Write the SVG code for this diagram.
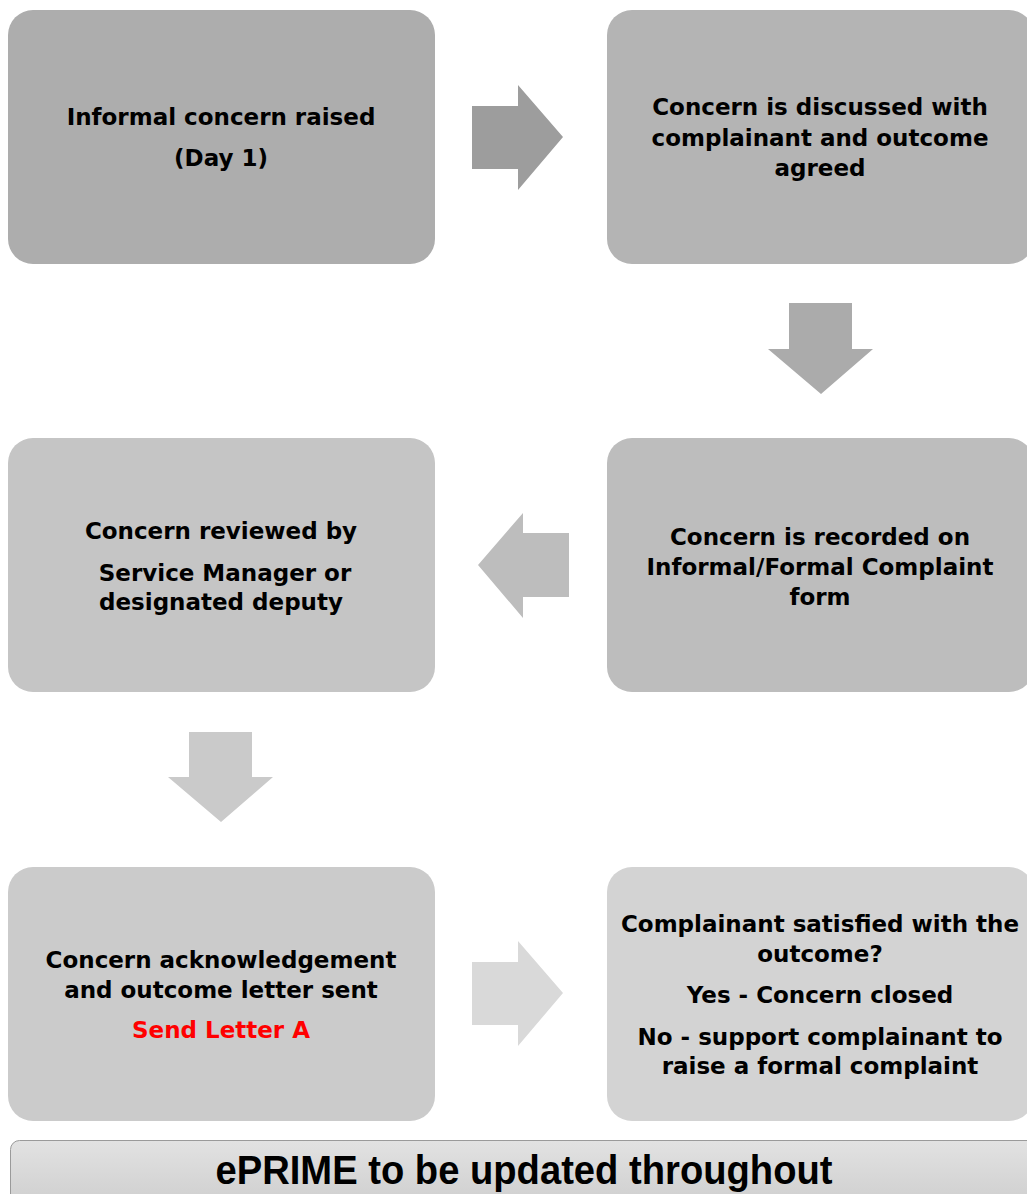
<svg xmlns="http://www.w3.org/2000/svg" width="1027" height="1194" viewBox="0 0 1027 1194">
<style>
.t{font-family:"DejaVu Sans","Liberation Sans",Arial,sans-serif;font-weight:bold;font-size:23px;fill:#000;text-anchor:middle}
.red{fill:#ff0000}
.bar{font-family:"Liberation Sans",Arial,sans-serif;font-weight:bold;font-size:40px;fill:#000;text-anchor:middle}
</style>
<defs>
<linearGradient id="g" x1="0" y1="0" x2="0" y2="1">
<stop offset="0" stop-color="#e2e2e2"/>
<stop offset="1" stop-color="#cdcdcd"/>
</linearGradient>
</defs>
<rect width="1027" height="1194" fill="#ffffff"/>
<g id="connectors">
<polygon points="472,106 518,106 518,85 563,137 518,190 518,169 472,169" fill="#9d9d9d"/>
<polygon points="789,303 852,303 852,349 873,349 821,394 768,349 789,349" fill="#ababab"/>
<polygon points="569,533 523,533 523,513 478,565 523,618 523,597 569,597" fill="#bdbdbd"/>
<polygon points="189,732 252,732 252,777 273,777 221,822 168,777 189,777" fill="#cacaca"/>
<polygon points="472,962 518,962 518,941 563,993 518,1046 518,1025 472,1025" fill="#d9d9d9"/>
</g>
<g id="n1">
<rect x="8" y="10" width="427" height="254" rx="25" fill="#adadad"/>
<text class="t" x="221" y="125">Informal concern raised</text>
<text class="t" x="221" y="166">(Day 1)</text>
</g>
<g id="n2">
<rect x="607" y="10" width="427" height="254" rx="25" fill="#b4b4b4"/>
<text class="t" x="820" y="115">Concern is discussed with</text>
<text class="t" x="820" y="146">complainant and outcome</text>
<text class="t" x="820" y="176">agreed</text>
</g>
<g id="n4">
<rect x="607" y="438" width="427" height="254" rx="25" fill="#bdbdbd"/>
<text class="t" x="820" y="545">Concern is recorded on</text>
<text class="t" x="820" y="575">Informal/Formal Complaint</text>
<text class="t" x="820" y="605">form</text>
</g>
<g id="n3">
<rect x="8" y="438" width="427" height="254" rx="25" fill="#c5c5c5"/>
<text class="t" x="221" y="539">Concern reviewed by</text>
<text class="t" x="225" y="581">Service Manager or</text>
<text class="t" x="221" y="610">designated deputy</text>
</g>
<g id="n5">
<rect x="8" y="867" width="427" height="254" rx="25" fill="#cbcbcb"/>
<text class="t" x="221" y="968">Concern acknowledgement</text>
<text class="t" x="221" y="998">and outcome letter sent</text>
<text class="t red" x="221" y="1038">Send Letter A</text>
</g>
<g id="n6">
<rect x="607" y="867" width="427" height="254" rx="25" fill="#d3d3d3"/>
<text class="t" x="820" y="932">Complainant satisfied with the</text>
<text class="t" x="820" y="962">outcome?</text>
<text class="t" x="820" y="1003">Yes - Concern closed</text>
<text class="t" x="820" y="1045">No - support complainant to</text>
<text class="t" x="820" y="1074">raise a formal complaint</text>
</g>
<g id="n7">
<rect x="10.5" y="1140.5" width="1030" height="70" rx="9" fill="url(#g)" stroke="#9a9a9a" stroke-width="1"/>
<text class="bar" x="524" y="1184" textLength="617" lengthAdjust="spacingAndGlyphs">ePRIME to be updated throughout</text>
</g>
</svg>
